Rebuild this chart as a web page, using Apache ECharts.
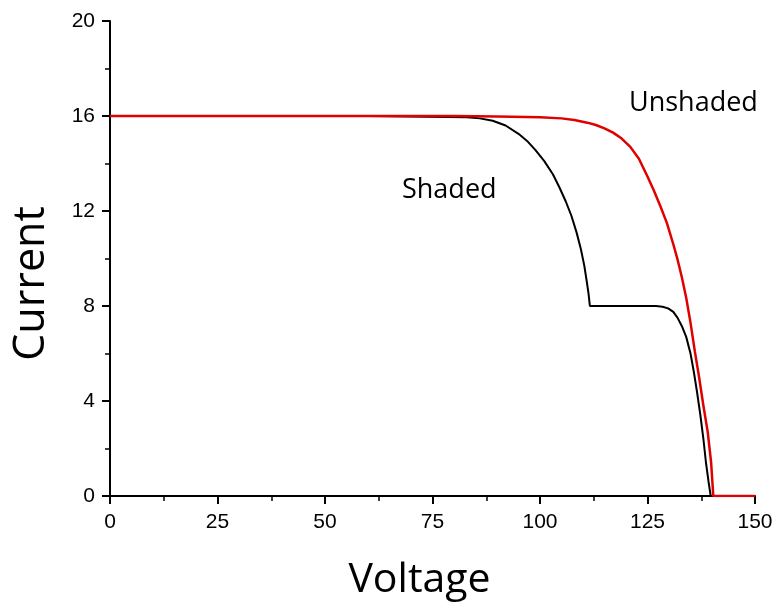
<!DOCTYPE html>
<html>
<head>
<meta charset="utf-8">
<script src="https://cdn.jsdelivr.net/npm/echarts@6/dist/echarts.min.js"></script>
<style>
  html, body { margin: 0; padding: 0; background: #fff; }
  #chart { width: 776px; height: 607px; }
</style>
</head>
<body>
<div id="chart"></div>
<script>
// values
var xTicks = [0, 25, 50, 75, 100, 125, 150];
var yTicks = [0, 4, 8, 12, 16, 20];

var unshadedV = [0, 60, 80, 90, 100, 105, 108, 111, 113, 115, 117, 119, 121, 123, 125, 126.5, 128, 129.5, 131, 132, 133, 134, 135, 136, 137, 138, 139, 139.8, 140.3, 150];
var unshadedI = [16, 16, 16, 15.98, 15.95, 15.9, 15.83, 15.72, 15.62, 15.48, 15.3, 15.05, 14.7, 14.2, 13.45, 12.85, 12.2, 11.5, 10.6, 9.95, 9.2, 8.35, 7.3, 6.1, 5.0, 3.8, 2.7, 1.4, 0, 0];

var shadedV = [0, 60, 83, 86, 89, 92, 95, 97, 99, 101, 103, 104.5, 106, 107.3, 108.5, 109.5, 110.3, 110.9, 111.3, 111.6, 120, 127, 128.5, 129.8, 131, 132, 133, 134, 135, 135.8, 136.5, 137.3, 138, 138.6, 139.2, 139.7];
var shadedI = [16, 16, 15.95, 15.9, 15.8, 15.6, 15.25, 14.95, 14.55, 14.1, 13.55, 13.0, 12.4, 11.8, 11.1, 10.4, 9.7, 9.0, 8.5, 8.0, 8.0, 8.0, 7.97, 7.9, 7.75, 7.5, 7.15, 6.7, 6.0, 5.2, 4.4, 3.4, 2.4, 1.4, 0.6, 0];

function pairs(xs, ys) {
    var out = [];
    for (var i = 0; i < xs.length; i++) out.push([xs[i], ys[i]]);
    return out;
}

var chart = echarts.init(document.getElementById('chart'));

var labelStyle = { color: '#000', fontSize: 21, fontFamily: 'Liberation Sans, Arial, sans-serif' };

var axisCommon = {
    axisLine: { show: true, onZero: false, lineStyle: { color: '#000', width: 2 } },
    axisTick: { show: true, inside: false, length: 8, lineStyle: { color: '#000', width: 2 } },
    minorTick: { show: true, splitNumber: 2, length: 5, lineStyle: { color: '#000', width: 1.5 } },
    splitLine: { show: false }
};

var option = {
    animation: false,
    backgroundColor: '#fff',
    grid: { left: 110, right: 21, top: 21, bottom: 111, containLabel: false, outerBoundsMode: 'none' },
    xAxis: Object.assign({}, axisCommon, {
        type: 'value',
        min: 0,
        max: 150,
        interval: 25,
        name: 'Voltage',
        nameLocation: 'middle',
        nameGap: 64,
        nameTextStyle: { color: '#000', fontSize: 41, fontFamily: 'Open Sans, sans-serif', padding: [0, 26, 0, 0] },
        axisLabel: Object.assign({}, labelStyle, { margin: 16 })
    }),
    yAxis: Object.assign({}, axisCommon, {
        type: 'value',
        min: 0,
        max: 20,
        interval: 4,
        name: 'Current',
        nameLocation: 'middle',
        nameGap: 57,
        nameTextStyle: { color: '#000', fontSize: 43, fontFamily: 'Open Sans, sans-serif', padding: [0, 50, 0, 0] },
        axisLabel: Object.assign({}, labelStyle, { margin: 15 })
    }),
    graphic: [
        {
            type: 'text',
            left: 402,
            top: 177,
            z: 100,
            style: { text: 'Shaded', fill: '#000', fontSize: 27, fontFamily: 'Open Sans, sans-serif' }
        },
        {
            type: 'text',
            left: 609,
            top: 86,
            z: 100,
            style: {
                text: 'Unshaded', fill: '#000', fontSize: 27, fontFamily: 'Open Sans, sans-serif',
                backgroundColor: '#fff', padding: [4, 0, 12, 20]
            }
        }
    ],
    series: [
        {
            name: 'Shaded',
            type: 'line',
            data: pairs(shadedV, shadedI),
            showSymbol: false,
            lineStyle: { color: '#000', width: 2 },
            z: 2
        },
        {
            name: 'Unshaded',
            type: 'line',
            data: pairs(unshadedV, unshadedI),
            showSymbol: false,
            lineStyle: { color: '#e00000', width: 2.5 },
            z: 3
        }
    ]
};

chart.setOption(option);
</script>
</body>
</html>
